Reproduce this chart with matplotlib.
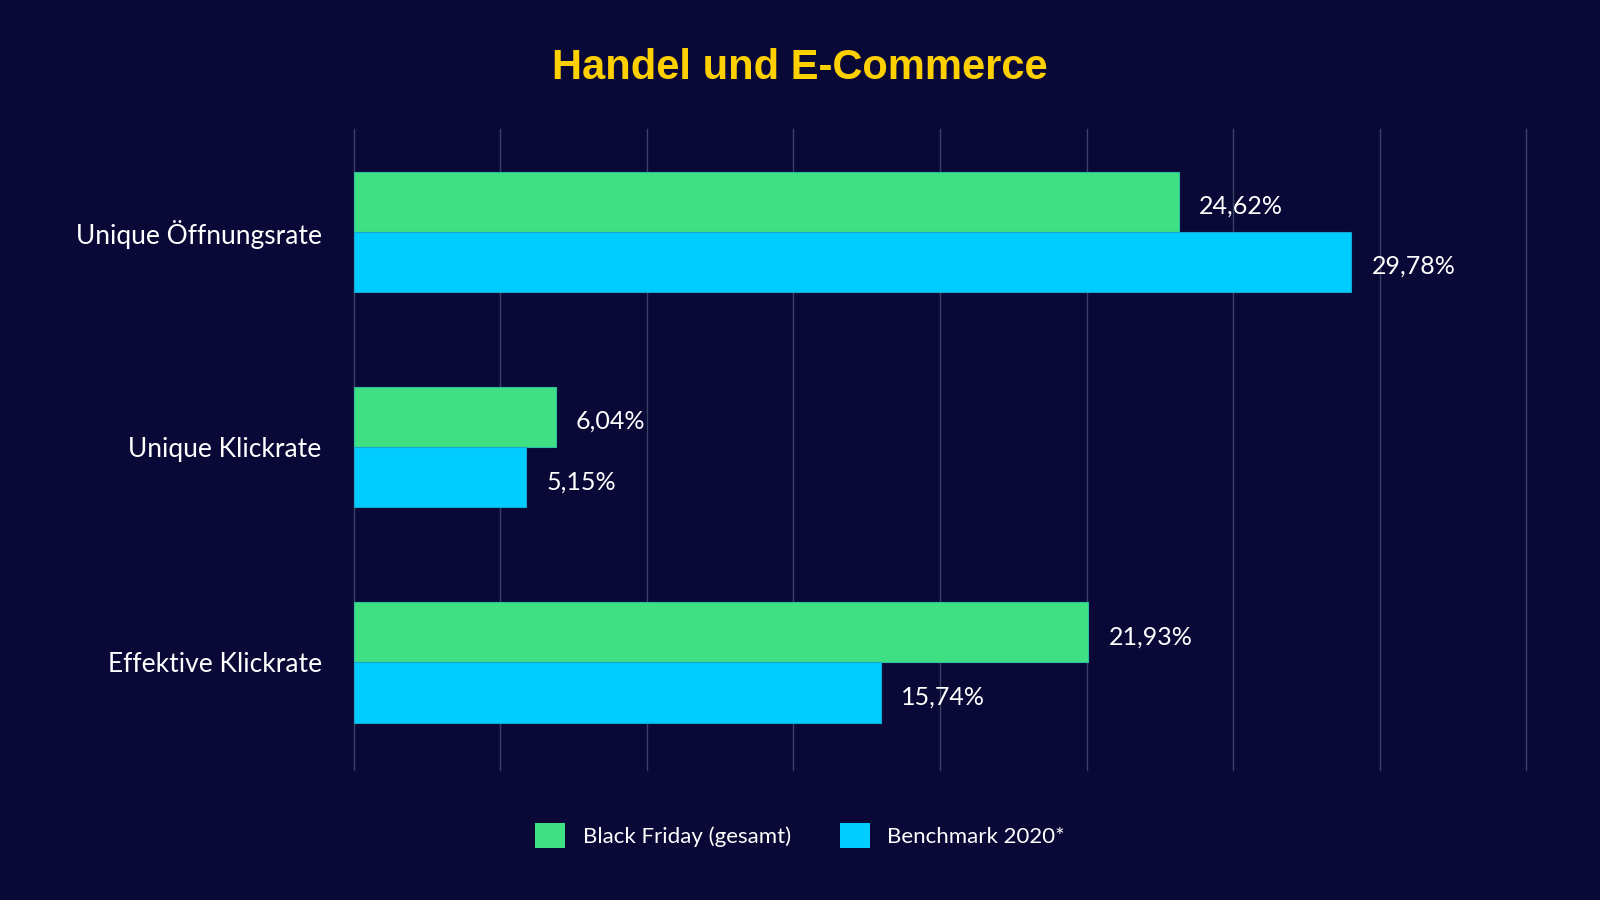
import numpy as np
import matplotlib
matplotlib.use("Agg")
import matplotlib.pyplot as plt
from matplotlib.patches import Patch

# Daten
categories = ["Unique Öffnungsrate", "Unique Klickrate", "Effektive Klickrate"]
black_friday = [24.62, 6.04, 21.93]
benchmark = [29.78, 5.15, 15.74]
labels_bf = ["24,62%", "6,04%", "21,93%"]
labels_bm = ["29,78%", "5,15%", "15,74%"]
series_names = ["Black Friday (gesamt)", "Benchmark 2020*"]

BG = "#0a0836"
GREEN = "#3ee083"
CYAN = "#00ccff"
GRID = "#3a4266"

plt.rcParams["font.family"] = ["Lato", "DejaVu Sans"]

fig = plt.figure(figsize=(16, 9), dpi=100, facecolor=BG)
ax = fig.add_axes([0.221, 0.1444, 0.733, 0.7126])
ax.set_facecolor(BG)

y = np.arange(len(categories))
h = 0.28
ax.barh(y - h / 2, black_friday, height=h, color=GREEN, edgecolor="#2cc0a0",
        linewidth=0.8, zorder=3)
ax.barh(y + h / 2, benchmark, height=h, color=CYAN, edgecolor="#12a8d0",
        linewidth=0.8, zorder=3)

for yi, v, s in zip(y, black_friday, labels_bf):
    ax.text(v + 0.6, yi - h / 2 + 0.02, s, color="white", fontsize=18,
            va="center", ha="left")
for yi, v, s in zip(y, benchmark, labels_bm):
    ax.text(v + 0.6, yi + h / 2 + 0.02, s, color="white", fontsize=18,
            va="center", ha="left")

ax.set_xlim(0, 35)
ax.set_ylim(2.5, -0.48)
ax.set_xticks(np.linspace(0, 35, 9))
ax.set_xticklabels([])
ax.grid(axis="x", color=GRID, linewidth=1, zorder=0)
for gl in ax.get_xgridlines():
    gl.set_clip_on(False)
ax.tick_params(axis="both", length=0)
ax.set_yticks(y)
ax.set_yticklabels(categories, color="white", fontsize=19)
ax.tick_params(axis="y", pad=23)
for sp in ax.spines.values():
    sp.set_visible(False)

fig.text(0.5, 0.924, "Handel und E-Commerce", color="#ffd000", fontsize=30,
         fontweight="bold", ha="center", va="center",
         family=["Liberation Sans", "DejaVu Sans"])

handles = [Patch(facecolor=GREEN), Patch(facecolor=CYAN)]
leg = fig.legend(handles, series_names, loc="center", bbox_to_anchor=(0.5, 0.072),
                 ncol=2, frameon=False, fontsize=16, handlelength=1.35,
                 handleheight=1.35, handletextpad=0.8, columnspacing=2.2)
for t in leg.get_texts():
    t.set_color("white")

fig.savefig("out.png", dpi=100, facecolor=BG)
